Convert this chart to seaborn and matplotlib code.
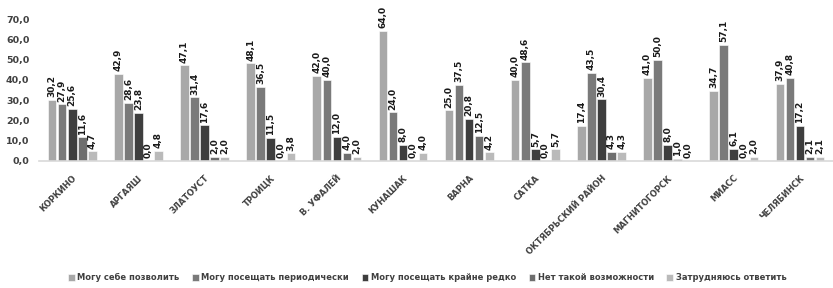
import numpy as np
import pandas as pd
import matplotlib
matplotlib.use("Agg")
import matplotlib.pyplot as plt
import seaborn as sns

# ── data ─────────────────────────────────────────────────────
cities = [
    "КОРКИНО", "АРГАЯШ", "ЗЛАТОУСТ", "ТРОИЦК", "В. УФАЛЕЙ", "КУНАШАК",
    "ВАРНА", "САТКА", "ОКТЯБРЬСКИЙ РАЙОН", "МАГНИТОГОРСК", "МИАСС", "ЧЕЛЯБИНСК",
]
series = [
    "Могу себе позволить",
    "Могу посещать периодически",
    "Могу посещать крайне редко",
    "Нет такой возможности",
    "Затрудняюсь ответить",
]
can_afford = [30.2, 42.9, 47.1, 48.1, 42.0, 64.0, 25.0, 40.0, 17.4, 41.0, 34.7, 37.9]
periodically = [27.9, 28.6, 31.4, 36.5, 40.0, 24.0, 37.5, 48.6, 43.5, 50.0, 57.1, 40.8]
rarely = [25.6, 23.8, 17.6, 11.5, 12.0, 8.0, 20.8, 5.7, 30.4, 8.0, 6.1, 17.2]
no_chance = [11.6, 0.0, 2.0, 0.0, 4.0, 0.0, 12.5, 0.0, 4.3, 1.0, 0.0, 2.1]
hard_to_say = [4.7, 4.8, 2.0, 3.8, 2.0, 4.0, 4.2, 5.7, 4.3, 0.0, 2.0, 2.1]

colors = ["#a8a8a8", "#7a7a7a", "#3e3e3e", "#6e6e6e", "#bababa"]

rows = []
for name, vals in zip(series, [can_afford, periodically, rarely, no_chance, hard_to_say]):
    for c, v in zip(cities, vals):
        rows.append({"city": c, "series": name, "value": v})
df = pd.DataFrame(rows)

# ── plot ─────────────────────────────────────────────────────
sns.set_style("white")
plt.rcParams["font.family"] = ["DejaVu Sans"]
txt = "#404040"

fig = plt.figure(figsize=(8.33, 2.88), dpi=100)
ax = fig.add_axes([0.047, 0.441, 0.953, 0.493])

sns.barplot(data=df, x="city", y="value", hue="series", hue_order=series,
            palette=colors, width=0.76, gap=0.15, ax=ax, legend=True,
            edgecolor="white", linewidth=0.4)

fmt = lambda v: f"{v:.1f}".replace(".", ",")
for cont in ax.containers:
    ax.bar_label(cont, labels=[fmt(b.get_height()) for b in cont],
                 rotation=90, padding=2, fontsize=6.5, fontweight="bold", color="#1a1a1a")

ax.set_ylim(0, 70)
ax.set_yticks(np.arange(0, 71, 10))
ax.set_yticklabels([fmt(t) for t in np.arange(0, 71, 10)], fontsize=6.8,
                   fontweight="bold", color=txt)
ax.set_xlim(-0.5, len(cities) - 0.5)
ax.set_xticks(range(len(cities)))
ax.set_xticklabels(cities, rotation=45, ha="right", rotation_mode="anchor",
                   fontsize=6, fontweight="bold", color=txt)
ax.tick_params(axis="x", length=0, pad=9)
ax.tick_params(axis="y", length=0, pad=7)
ax.set_xlabel("")
ax.set_ylabel("")
for s in ["top", "right", "left"]:
    ax.spines[s].set_visible(False)
ax.spines["bottom"].set_color("#d9d9d9")
ax.spines["bottom"].set_linewidth(1.2)

handles, labels = ax.get_legend_handles_labels()
ax.legend_.remove()
fig.legend(handles, labels, loc="center", bbox_to_anchor=(0.513, 0.035), ncol=5,
           frameon=False, handlelength=0.8, handleheight=0.8,
           handletextpad=0.3, columnspacing=1.5,
           prop={"size": 6.0, "weight": "bold"}, labelcolor=txt)

fig.savefig("out.png", dpi=100)
